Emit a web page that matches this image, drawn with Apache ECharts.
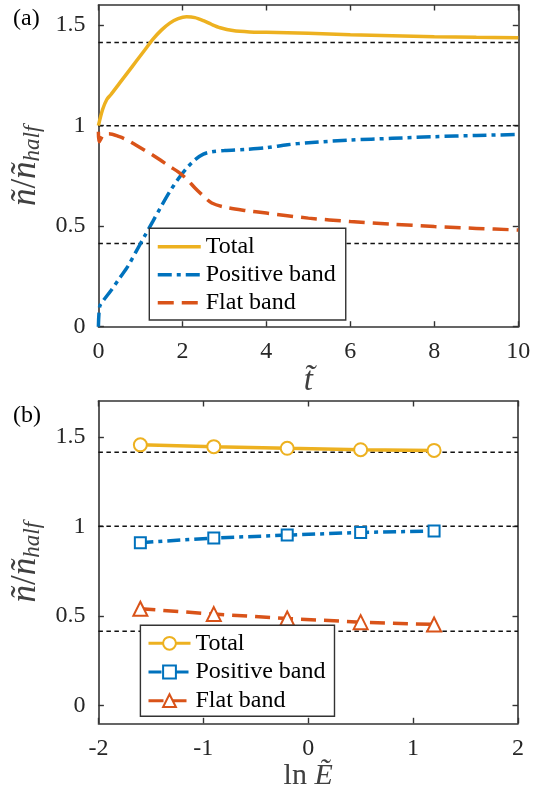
<!DOCTYPE html>
<html>
<head>
<meta charset="utf-8">
<script src="https://cdn.jsdelivr.net/npm/echarts@6/dist/echarts.min.js"></script>
<style>
html,body{margin:0;padding:0;background:#fff;}
#chart{width:539px;height:800px;}
</style>
</head>
<body>
<div id="chart"></div>
<script>
// ---- Panel (a): time evolution ----
const totalCurve = [[0,1.0],[0.1,1.08],[0.2,1.13],[0.3,1.155],[0.5,1.21],[0.7,1.265],[0.9,1.32],[1.1,1.375],[1.3,1.43],[1.5,1.475],[1.7,1.51],[1.9,1.532],[2.1,1.541],[2.3,1.537],[2.5,1.522],[2.7,1.503],[2.9,1.487],[3.2,1.473],[3.6,1.466],[4,1.464],[5,1.459],[6,1.452],[7,1.447],[8,1.442],[9,1.439],[10,1.437]];
const positiveCurve = [[0,0],[0.03,0.1],[0.1,0.125],[0.3,0.18],[0.5,0.24],[0.7,0.30],[0.9,0.375],[1.1,0.45],[1.3,0.525],[1.5,0.60],[1.7,0.672],[1.9,0.735],[2.1,0.788],[2.3,0.83],[2.5,0.858],[2.7,0.870],[3.0,0.876],[3.5,0.882],[4,0.89],[4.5,0.905],[5,0.915],[6,0.928],[7,0.937],[8,0.945],[9,0.951],[10,0.956]];
const flatCurve = [[0,0.97],[0.02,0.92],[0.12,0.955],[0.25,0.96],[0.5,0.945],[0.7,0.927],[0.9,0.903],[1.1,0.878],[1.3,0.853],[1.5,0.825],[1.7,0.797],[1.9,0.77],[2.1,0.735],[2.3,0.69],[2.5,0.65],[2.7,0.615],[3.0,0.595],[3.5,0.578],[4,0.565],[5,0.54],[6,0.523],[7,0.51],[8,0.498],[9,0.489],[10,0.481]];

// ---- Panel (b): versus ln E ----
const lnE = [-1.6, -0.9, -0.2, 0.5, 1.2];
const totalB = [1.455, 1.445, 1.436, 1.428, 1.424];
const positiveB = [0.909, 0.935, 0.951, 0.966, 0.974];
const flatB = [0.54, 0.51, 0.485, 0.465, 0.452];

// reference levels (sqrt2, 1, sqrt2-1)
const refLevels = [1.414, 1, 0.414];

const xTicksA = [0, 2, 4, 6, 8, 10];
const yTicksA = [0, 0.5, 1, 1.5];
const xTicksB = [-2, -1, 0, 1, 2];
const yTicksB = [0, 0.5, 1, 1.5];
const seriesNames = ['Total', 'Positive band', 'Flat band'];

const C_TOTAL = '#EDB120', C_POS = '#0072BD', C_FLAT = '#D95319';
const FONT = 'Liberation Serif';
const AX = '#333333';

function pairs(xs, ys){ return xs.map((x,i)=>[x, ys[i]]); }

function axisCommon(min, max, ticks, pos, grid, showLabel, extra){
  return Object.assign({
    type: 'value', gridIndex: grid, position: pos, min: min, max: max,
    axisLine: {show: true, onZero: false, lineStyle: {color: AX, width: 1.6}},
    axisTick: {show: true, inside: true, length: 5.5, customValues: ticks, lineStyle: {color: AX, width: 1.4}},
    axisLabel: {show: showLabel, customValues: ticks, fontFamily: FONT, fontSize: 24, color: '#262626', margin: 13},
    splitLine: {show: false}
  }, extra || {});
}

const nameStyle = {fontFamily: FONT, fontSize: 30, color: '#404040'};
const yName = '{n|ñ}{sl|/}{n|ñ}{s|half}';
const yNameRich = {
  n: {fontFamily: FONT, fontStyle: 'italic', fontSize: 35, color: '#404040', lineHeight: 38, verticalAlign: 'middle'},
  sl: {fontFamily: FONT, fontSize: 35, color: '#404040', lineHeight: 38, verticalAlign: 'middle'},
  s: {fontFamily: FONT, fontStyle: 'italic', fontSize: 23, color: '#404040', lineHeight: 20, verticalAlign: 'bottom'}
};

const xAxes = [
  axisCommon(0, 10, xTicksA, 'bottom', 0, true, {name: '{i|t\u0303}', nameLocation: 'middle', nameGap: 34,
    nameTextStyle: {rich: {i: Object.assign({}, nameStyle, {fontStyle: 'italic', fontSize: 33})}}}),
  axisCommon(0, 10, xTicksA, 'top', 0, false),
  axisCommon(-2, 2, xTicksB, 'bottom', 1, true, {name: '{r|ln }{i|E\u0303}', nameLocation: 'middle', nameGap: 36,
    nameTextStyle: {rich: {r: nameStyle, i: Object.assign({}, nameStyle, {fontStyle: 'italic'})}}}),
  axisCommon(-2, 2, xTicksB, 'top', 1, false)
];
const yAxes = [
  axisCommon(0, 1.6, yTicksA, 'left', 0, true, {name: yName, nameLocation: 'middle', nameRotate: 90, nameGap: 52,
    nameTextStyle: {rich: yNameRich}}),
  axisCommon(0, 1.6, yTicksA, 'right', 0, false),
  axisCommon(-0.1, 1.7, yTicksB, 'left', 1, true, {name: yName, nameLocation: 'middle', nameRotate: 90, nameGap: 52,
    nameTextStyle: {rich: yNameRich}}),
  axisCommon(-0.1, 1.7, yTicksB, 'right', 1, false)
];

const series = [];
// reference dashed lines
refLevels.forEach(v => {
  series.push({type: 'line', xAxisIndex: 0, yAxisIndex: 0, data: [[0, v], [10, v]], symbol: 'none', silent: true, z: 1,
    lineStyle: {color: '#111', width: 1.5, type: [4.5, 3.5]}});
  series.push({type: 'line', xAxisIndex: 2, yAxisIndex: 2, data: [[-2, v], [2, v]], symbol: 'none', silent: true, z: 1,
    lineStyle: {color: '#111', width: 1.5, type: [4.5, 3.5]}});
});
// panel (a)
series.push({name: 'Total', type: 'line', xAxisIndex: 0, yAxisIndex: 0, data: totalCurve, symbol: 'none', smooth: 0.3, z: 3,
  color: C_TOTAL, lineStyle: {color: C_TOTAL, width: 3.5}});
series.push({name: 'Positive band', type: 'line', xAxisIndex: 0, yAxisIndex: 0, data: positiveCurve, symbol: 'none', smooth: 0.3, z: 3,
  color: C_POS, lineStyle: {color: C_POS, width: 3.5, type: [14, 5, 4, 5]}});
series.push({name: 'Flat band', type: 'line', xAxisIndex: 0, yAxisIndex: 0, data: flatCurve, symbol: 'none', smooth: 0.3, z: 3,
  color: C_FLAT, lineStyle: {color: C_FLAT, width: 3.5, type: [16, 8]}});
// panel (b)
series.push({name: 'b:Total', type: 'line', xAxisIndex: 2, yAxisIndex: 2, data: pairs(lnE, totalB), symbol: 'emptyCircle', symbolSize: 13, z: 3,
  color: C_TOTAL, lineStyle: {color: C_TOTAL, width: 3.5}, itemStyle: {color: C_TOTAL, borderWidth: 3}});
series.push({name: 'b:Positive band', type: 'line', xAxisIndex: 2, yAxisIndex: 2, data: pairs(lnE, positiveB), symbol: 'emptyRect', symbolSize: 11, z: 3,
  color: C_POS, lineStyle: {color: C_POS, width: 3.5, type: [13, 5, 4, 5]}, itemStyle: {color: C_POS, borderWidth: 3}});
series.push({name: 'b:Flat band', type: 'line', xAxisIndex: 2, yAxisIndex: 2, data: pairs(lnE, flatB), symbol: 'emptyTriangle', symbolSize: 14, z: 3,
  color: C_FLAT, lineStyle: {color: C_FLAT, width: 3.5, type: [15, 8]}, itemStyle: {color: C_FLAT, borderWidth: 3}});

const legendText = {fontFamily: FONT, fontSize: 24, color: '#000'};
const option = {
  animation: false,
  backgroundColor: '#fff',
  grid: [
    {left: 97.7, top: 5, width: 420.6, height: 321.7},
    {left: 97.7, top: 401, width: 420.3, height: 322.3}
  ],
  xAxis: xAxes,
  yAxis: yAxes,
  legend: [
    {data: seriesNames, orient: 'vertical', left: 149.3, top: 228.3, itemWidth: 43, itemHeight: 14, itemGap: 4, itemTextGap: 5,
      padding: [6.4, 10, 5.3, 6.7], borderColor: AX, borderWidth: 1.4, borderRadius: 0, backgroundColor: '#fff',
      textStyle: legendText, itemStyle: {opacity: 0}, lineStyle: {width: 3.5}, selectedMode: false, z: 10},
    {data: seriesNames.map(n => 'b:' + n), orient: 'vertical', left: 140.4, top: 625.3, itemWidth: 42, itemHeight: 16, itemGap: 4.7, itemTextGap: 5,
      padding: [6, 9, 3.6, 6.6], borderColor: AX, borderWidth: 1.4, borderRadius: 0, backgroundColor: '#fff',
      textStyle: legendText, lineStyle: {width: 3}, selectedMode: false, z: 10,
      formatter: name => name.replace('b:', '')}
  ],
  graphic: [
    {type: 'text', left: 13, top: 7, style: {text: '(a)', font: '24px ' + FONT, fill: '#000'}},
    {type: 'text', left: 13, top: 404, style: {text: '(b)', font: '24px ' + FONT, fill: '#000'}}
  ],
  series: series
};

const chart = echarts.init(document.getElementById('chart'), null, {renderer: 'canvas'});
chart.setOption(option);
</script>
</body>
</html>
